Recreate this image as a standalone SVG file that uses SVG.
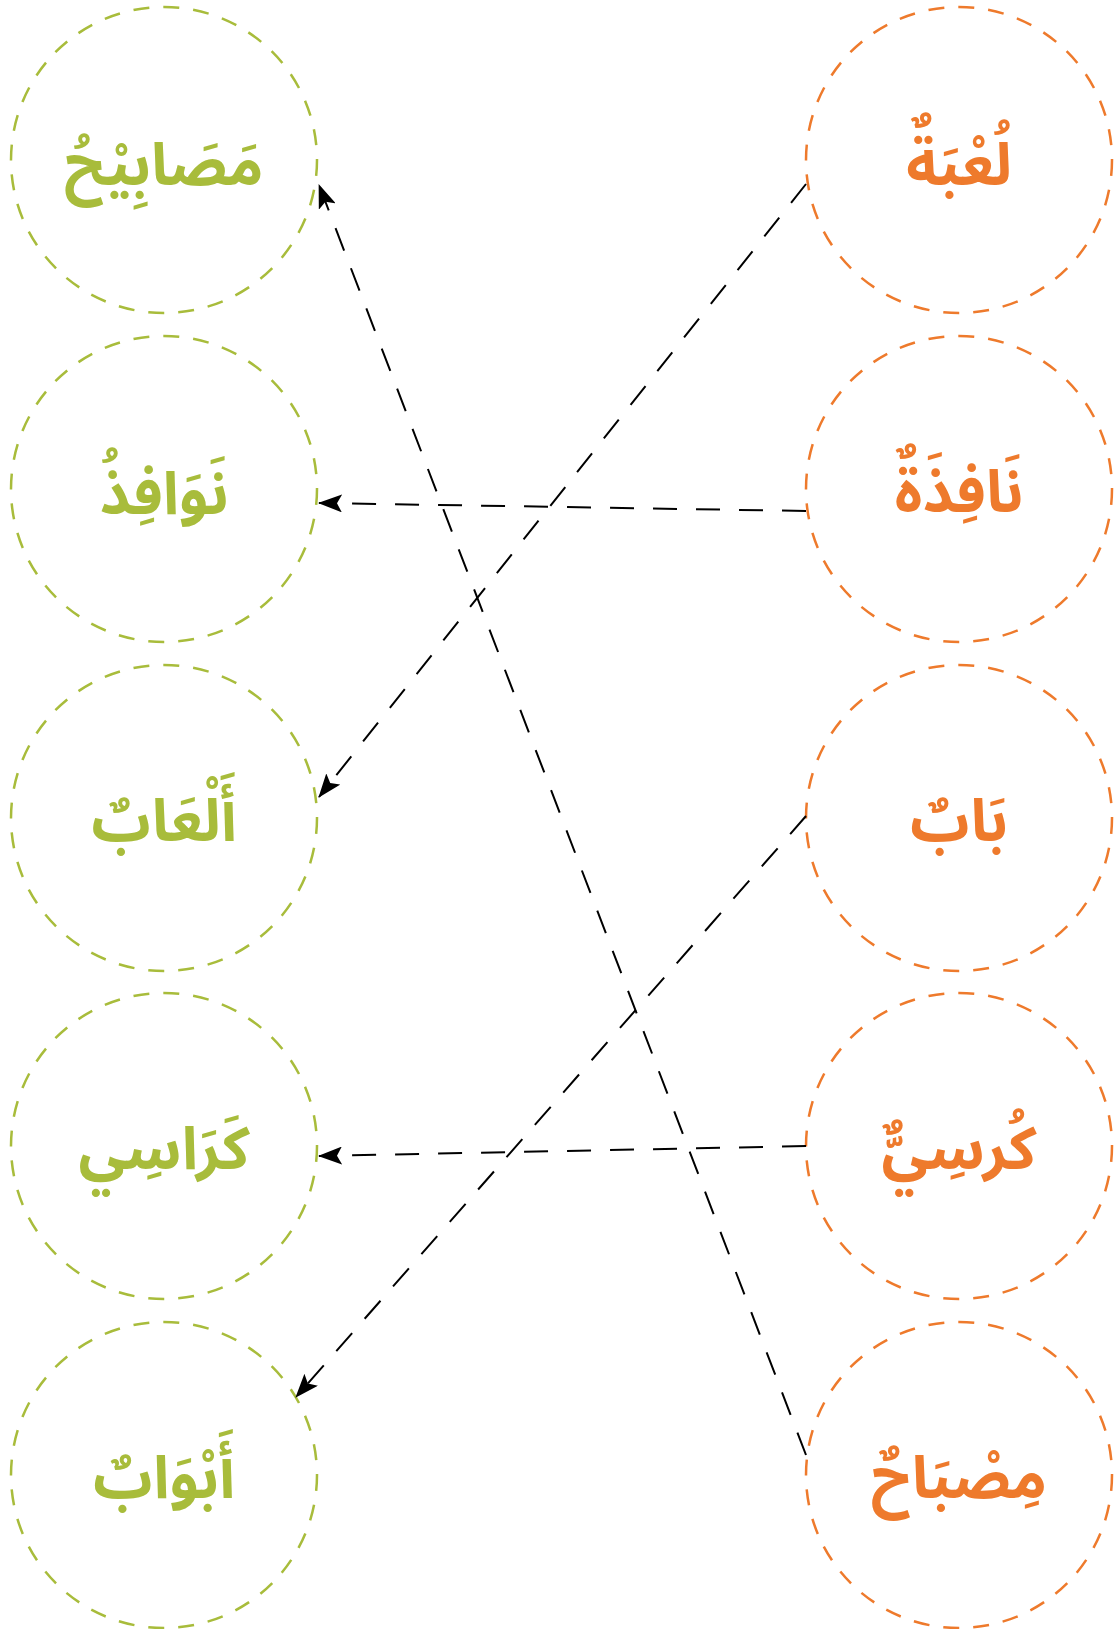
<svg xmlns="http://www.w3.org/2000/svg" width="1117" height="1629" viewBox="0 0 1117 1629">
<style>
.cl{fill:none;stroke:#a8bc3b;stroke-width:2.5;stroke-dasharray:16 14}
.cr{fill:none;stroke:#ee7a2c;stroke-width:2.5;stroke-dasharray:16 14}
.tl{fill:#a8bc3b;font-family:"Noto Sans Arabic","DejaVu Sans",sans-serif;font-weight:bold;font-size:59px;text-anchor:middle}
.tr{fill:#ee7a2c;font-family:"Noto Sans Arabic","DejaVu Sans",sans-serif;font-weight:bold;font-size:59px;text-anchor:middle}
.ed{fill:none;stroke:#000;stroke-width:2;stroke-dasharray:24 19}
</style>
<defs>
<marker id="ah" viewBox="0 0 24 18" refX="23" refY="9" markerWidth="24" markerHeight="18" markerUnits="userSpaceOnUse" orient="auto">
<path d="M24,9 L0,0 L5,9 L0,18 Z" fill="#000"/>
</marker>
</defs>
<rect width="1117" height="1629" fill="#fff"/>
<g id="l1"><circle class="cl" cx="164" cy="160" r="153"/><text class="tl" x="164" y="185" direction="rtl">مَصَابِيْحُ</text></g>
<g id="l2"><circle class="cl" cx="164" cy="489" r="153"/><text class="tl" x="164" y="514" direction="rtl">نَوَافِذُ</text></g>
<g id="l3"><circle class="cl" cx="164" cy="818" r="153"/><text class="tl" x="164" y="841" direction="rtl">أَلْعَابٌ</text></g>
<g id="l4"><circle class="cl" cx="164" cy="1146" r="153"/><text class="tl" x="164" y="1169" direction="rtl">كَرَاسِي</text></g>
<g id="l5"><circle class="cl" cx="164" cy="1475" r="153"/><text class="tl" x="164" y="1498" direction="rtl">أَبْوَابٌ</text></g>
<g id="r1"><circle class="cr" cx="959" cy="160" r="153"/><text class="tr" x="959" y="185" direction="rtl">لُعْبَةٌ</text></g>
<g id="r2"><circle class="cr" cx="959" cy="489" r="153"/><text class="tr" x="959" y="512" direction="rtl">نَافِذَةٌ</text></g>
<g id="r3"><circle class="cr" cx="959" cy="818" r="153"/><text class="tr" x="959" y="841" direction="rtl">بَابٌ</text></g>
<g id="r4"><circle class="cr" cx="959" cy="1146" r="153"/><text class="tr" x="959" y="1169" direction="rtl">كُرسِيٌّ</text></g>
<g id="r5"><circle class="cr" cx="959" cy="1475" r="153"/><text class="tr" x="959" y="1498" direction="rtl">مِصْبَاحٌ</text></g>
<g id="connectors">
<path class="ed" d="M806,184 L319,797" marker-end="url(#ah)"/>
<path class="ed" d="M806,511 L319,503" marker-end="url(#ah)"/>
<path class="ed" d="M806,816 L296,1397" marker-end="url(#ah)"/>
<path class="ed" d="M806,1146 L319,1156" marker-end="url(#ah)"/>
<path class="ed" d="M806,1455 L319,185" marker-end="url(#ah)"/>
</g>
</svg>
